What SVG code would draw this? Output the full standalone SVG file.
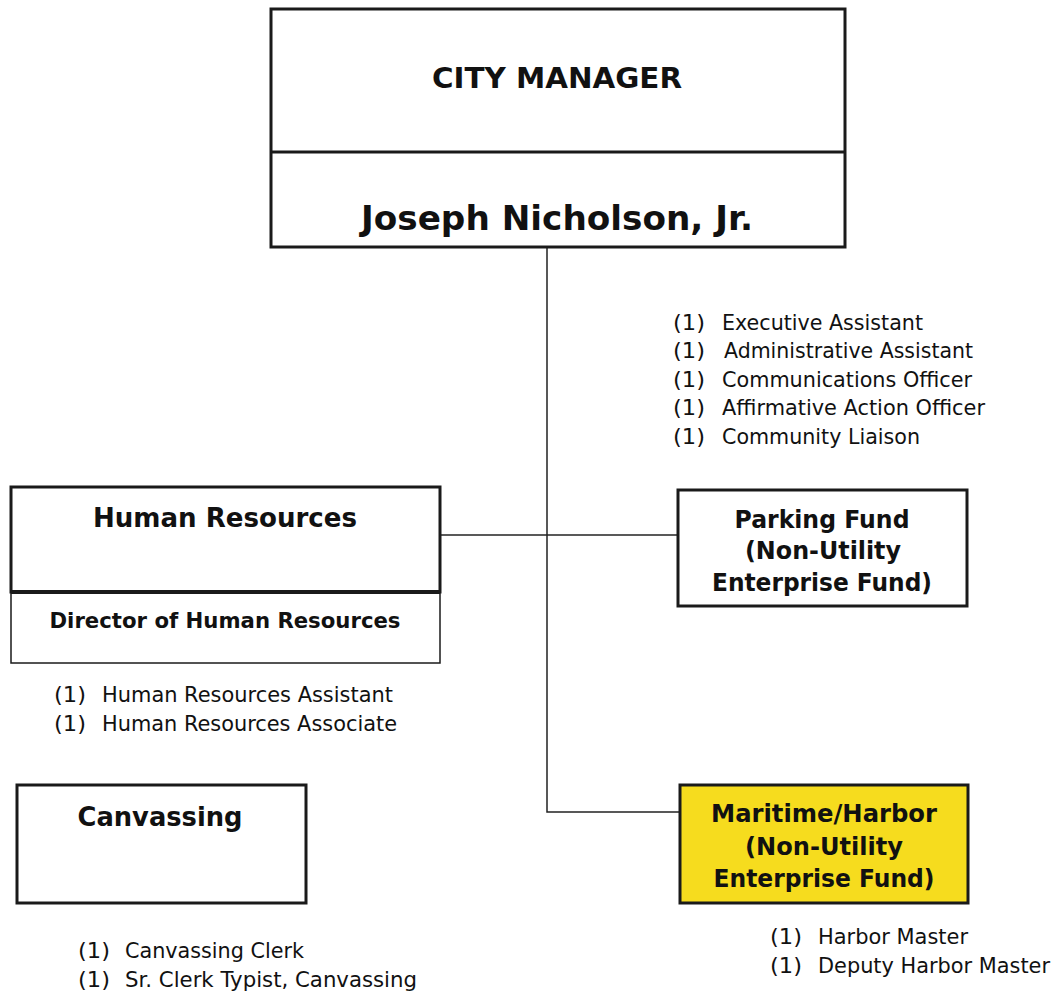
<svg xmlns="http://www.w3.org/2000/svg" width="1055" height="996" viewBox="0 0 1055 996">
<style>
.box{fill:#fff;stroke:#1a1a1a;stroke-width:3}
.thin{fill:#fff;stroke:#1a1a1a;stroke-width:1.5}
.yel{fill:#f6dc1e;stroke:#1a1a1a;stroke-width:3}
.t{font-family:"DejaVu Sans",Verdana,sans-serif;font-weight:bold;fill:#111;text-anchor:middle}
.s{font-family:"DejaVu Sans",Verdana,sans-serif;font-size:21px;fill:#111}
.ln{stroke:#222;stroke-width:1.5;fill:none}
</style>
<rect width="1055" height="996" fill="#fff"/>
<g id="connectors">
<path class="ln" d="M547 247 V812 H680"/>
<path class="ln" d="M440 535 H678"/>
</g>
<g id="city-manager">
<rect class="box" x="271" y="9" width="574" height="238"/>
<line x1="271" y1="152" x2="845" y2="152" stroke="#1a1a1a" stroke-width="3"/>
<text class="t" x="557" y="88" font-size="28" textLength="250" lengthAdjust="spacingAndGlyphs">CITY MANAGER</text>
<text class="t" x="557" y="230" font-size="34" textLength="392" lengthAdjust="spacingAndGlyphs">Joseph Nicholson, Jr.</text>
</g>
<g id="cm-staff">
<text class="s" x="673" y="330" textLength="32" lengthAdjust="spacingAndGlyphs">(1)</text><text class="s" x="722" y="330" textLength="201" lengthAdjust="spacingAndGlyphs">Executive Assistant</text>
<text class="s" x="673" y="358" textLength="32" lengthAdjust="spacingAndGlyphs">(1)</text><text class="s" x="724" y="358" textLength="249" lengthAdjust="spacingAndGlyphs">Administrative Assistant</text>
<text class="s" x="673" y="387" textLength="32" lengthAdjust="spacingAndGlyphs">(1)</text><text class="s" x="722" y="387" textLength="250" lengthAdjust="spacingAndGlyphs">Communications Officer</text>
<text class="s" x="673" y="415" textLength="32" lengthAdjust="spacingAndGlyphs">(1)</text><text class="s" x="722" y="415" textLength="263" lengthAdjust="spacingAndGlyphs">Affirmative Action Officer</text>
<text class="s" x="673" y="444" textLength="32" lengthAdjust="spacingAndGlyphs">(1)</text><text class="s" x="722" y="444" textLength="198" lengthAdjust="spacingAndGlyphs">Community Liaison</text>
</g>
<g id="human-resources">
<rect class="thin" x="11" y="592" width="429" height="71"/>
<rect class="box" x="11" y="487" width="429" height="105"/>
<line x1="11" y1="592" x2="440" y2="592" stroke="#1a1a1a" stroke-width="4"/>
<text class="t" x="225" y="527" font-size="26" textLength="264" lengthAdjust="spacingAndGlyphs">Human Resources</text>
<text class="t" x="225" y="628" font-size="21" textLength="351" lengthAdjust="spacingAndGlyphs">Director of Human Resources</text>
</g>
<g id="hr-staff">
<text class="s" x="54" y="702" textLength="32" lengthAdjust="spacingAndGlyphs">(1)</text><text class="s" x="102" y="702" textLength="291" lengthAdjust="spacingAndGlyphs">Human Resources Assistant</text>
<text class="s" x="54" y="731" textLength="32" lengthAdjust="spacingAndGlyphs">(1)</text><text class="s" x="102" y="731" textLength="295" lengthAdjust="spacingAndGlyphs">Human Resources Associate</text>
</g>
<g id="parking-fund">
<rect class="box" x="678" y="490" width="289" height="116"/>
<text class="t" x="822" y="528" font-size="24" textLength="175" lengthAdjust="spacingAndGlyphs">Parking Fund</text>
<text class="t" x="823" y="559" font-size="24" textLength="156" lengthAdjust="spacingAndGlyphs">(Non-Utility</text>
<text class="t" x="822" y="591" font-size="24" textLength="220" lengthAdjust="spacingAndGlyphs">Enterprise Fund)</text>
</g>
<g id="canvassing">
<rect class="box" x="17" y="785" width="289" height="118"/>
<text class="t" x="160" y="826" font-size="26" textLength="165" lengthAdjust="spacingAndGlyphs">Canvassing</text>
</g>
<g id="canvassing-staff">
<text class="s" x="78" y="958" textLength="32" lengthAdjust="spacingAndGlyphs">(1)</text><text class="s" x="125" y="958" textLength="179" lengthAdjust="spacingAndGlyphs">Canvassing Clerk</text>
<text class="s" x="78" y="987" textLength="32" lengthAdjust="spacingAndGlyphs">(1)</text><text class="s" x="125" y="987" textLength="292" lengthAdjust="spacingAndGlyphs">Sr. Clerk Typist, Canvassing</text>
</g>
<g id="maritime-harbor">
<rect class="yel" x="680" y="785" width="288" height="118"/>
<text class="t" x="824" y="822" font-size="24" textLength="226" lengthAdjust="spacingAndGlyphs">Maritime/Harbor</text>
<text class="t" x="824" y="855" font-size="24" textLength="158" lengthAdjust="spacingAndGlyphs">(Non-Utility</text>
<text class="t" x="824" y="887" font-size="24" textLength="221" lengthAdjust="spacingAndGlyphs">Enterprise Fund)</text>
</g>
<g id="harbor-staff">
<text class="s" x="770" y="944" textLength="32" lengthAdjust="spacingAndGlyphs">(1)</text><text class="s" x="818" y="944" textLength="150" lengthAdjust="spacingAndGlyphs">Harbor Master</text>
<text class="s" x="770" y="973" textLength="32" lengthAdjust="spacingAndGlyphs">(1)</text><text class="s" x="818" y="973" textLength="232" lengthAdjust="spacingAndGlyphs">Deputy Harbor Master</text>
</g>
</svg>
